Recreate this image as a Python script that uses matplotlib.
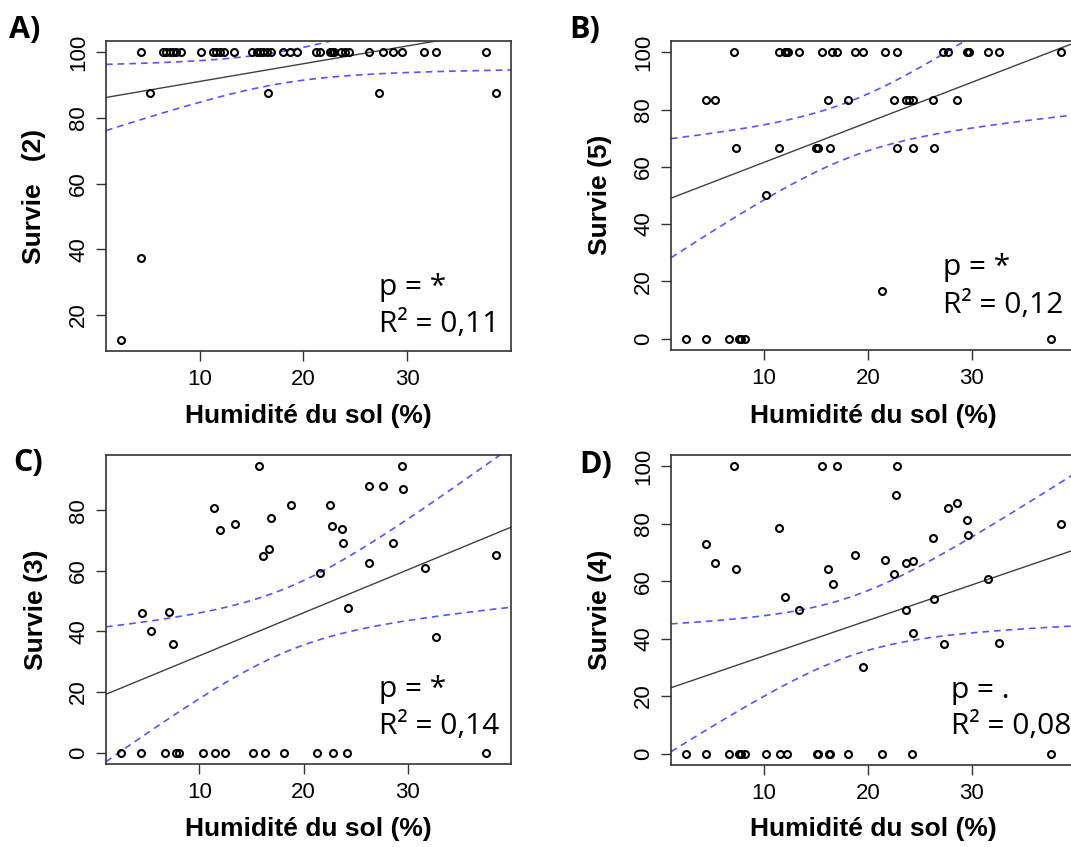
import matplotlib.pyplot as plt
import numpy as np

W, H = 1071, 847

# A) Survie (2) -- soil moisture (%) vs survival
a_x = [4.38, 6.48, 6.8, 7.12, 7.45, 7.77, 8.19, 10.18, 11.31, 11.63, 11.96,
       12.34, 13.34, 15.02, 15.5, 15.82, 16.15, 16.47, 16.89, 18.08, 18.72,
       19.43, 21.24, 21.56, 22.53, 22.75, 22.91, 23.62, 24.04, 24.36, 26.3,
       27.68, 28.62, 29.52, 31.62, 32.74, 37.58,
       5.25, 16.63, 27.26, 38.54,
       4.36, 2.44]
a_y = [100, 100, 100, 100, 100, 100, 100, 100, 100, 100, 100,
       100, 100, 100, 100, 100, 100, 100, 100, 100, 100,
       100, 100, 100, 100, 100, 100, 100, 100, 100, 100,
       100, 100, 100, 100, 100, 100,
       87.5, 87.5, 87.5, 87.5,
       37.5, 12.5]

# B) Survie (5)
b_x = [7.11, 11.44, 11.99, 12.15, 12.31, 13.37, 15.62, 16.52, 17.0, 18.76,
       19.53, 21.65, 22.84, 27.24, 27.75, 29.58, 29.68, 31.51, 32.57, 38.57,
       4.45, 5.28, 16.13, 18.06, 22.52, 23.64, 23.96, 24.35, 26.28, 28.56,
       7.34, 11.44, 15.04, 15.2, 16.36, 22.78, 24.35, 26.37,
       10.22, 21.33,
       2.52, 4.45, 6.69, 7.59, 7.85, 8.17, 37.6]
b_y = [100, 100, 100, 100, 100, 100, 100, 100, 100, 100,
       100, 100, 100, 100, 100, 100, 100, 100, 100, 100,
       83.3, 83.3, 83.3, 83.3, 83.3, 83.3, 83.3, 83.3, 83.3, 83.3,
       66.7, 66.7, 66.7, 66.7, 66.7, 66.7, 66.7, 66.7,
       50, 16.7,
       0, 0, 0, 0, 0, 0, 0]

# C) Survie (3)
c_x = [15.71, 29.45, 26.34, 27.62, 29.55, 11.38, 18.83, 22.58, 16.9, 13.4,
       11.99, 22.71, 23.68, 23.84, 28.62, 16.71, 16.1, 21.62, 26.34, 38.5,
       31.64, 24.29, 4.51, 7.05, 5.35, 32.73, 7.43,
       2.46, 4.38, 6.66, 7.78, 8.07, 10.35, 11.48, 12.41, 15.14, 16.29,
       18.12, 21.27, 22.87, 24.22, 37.54]
c_y = [94.5, 94.5, 87.9, 87.9, 87.0, 80.8, 81.7, 81.7, 77.6, 75.6,
       73.5, 74.7, 73.9, 69.3, 69.3, 67.2, 64.8, 59.4, 62.7, 65.1,
       61.1, 47.9, 46.2, 46.5, 40.3, 38.2, 35.7,
       0, 0, 0, 0, 0, 0, 0, 0, 0, 0,
       0, 0, 0, 0, 0]

# D) Survie (4)
d_x = [7.11, 15.62, 17.0, 22.84, 22.71, 27.69, 28.56, 29.52, 29.65, 11.44,
       4.45, 5.28, 7.34, 16.13, 16.61, 18.76, 21.65, 23.7, 24.35, 22.52,
       26.24, 31.51, 38.57, 12.02, 13.37, 23.7, 26.37, 24.35, 27.34, 32.63,
       19.53,
       2.52, 4.45, 6.69, 7.59, 7.85, 8.17, 10.22, 11.51, 12.25, 15.07,
       15.23, 16.26, 16.36, 18.09, 21.4, 24.22, 37.6]
d_y = [100, 100, 100, 100, 89.9, 85.6, 87.4, 81.2, 76.0, 78.7,
       72.9, 66.5, 64.3, 64.3, 59.0, 69.0, 67.3, 66.4, 66.9, 62.4,
       75.2, 60.8, 79.9, 54.6, 49.9, 49.9, 53.7, 42.1, 38.2, 38.6,
       30.0,
       0, 0, 0, 0, 0, 0, 0, 0, 0, 0,
       0, 0, 0, 0, 0, 0, 0]

panel_tags = ['A)', 'B)', 'C)', 'D)']
y_labels = ['Survie   (2)', 'Survie (5)', 'Survie (3)', 'Survie (4)']
p_texts = ['p = *', 'p = *', 'p = *', 'p = .']
r2_texts = ['R\u00b2 = 0,11', 'R\u00b2 = 0,12', 'R\u00b2 = 0,14', 'R\u00b2 = 0,08']
x_label = 'Humidité du sol (%)'

T975 = 2.02  # t quantile for ~45 df

# layout in pixels: axes box (left, top, width, height)
boxes = [(106, 41, 405, 310), (671, 41, 405, 309),
         (106, 455, 405, 309), (671, 455, 405, 310)]
tag_pos = [(9, 30), (569, 30), (13, 463), (579, 465)]
ylab_pos = [(34, 196), (600, 195), (36, 610), (600, 610)]
xlab_y = [416, 416, 829, 829]
note_pos = [(379, 287, 324), (943, 267, 305), (379, 689, 726), (951, 690, 726)]

SANS = 'Liberation Sans'
NOTE = 'Open Sans'


def fx(px):
    return px / W


def fy(py):
    return 1 - py / H


def fit_band(x, y, grid):
    x = np.asarray(x, float)
    y = np.asarray(y, float)
    n = len(x)
    slope, inter = np.polyfit(x, y, 1)
    resid = y - (inter + slope * x)
    s = np.sqrt(np.sum(resid ** 2) / (n - 2))
    sxx = np.sum((x - x.mean()) ** 2)
    se = s * np.sqrt(1 / n + (grid - x.mean()) ** 2 / sxx)
    fit = inter + slope * grid
    return fit, fit - T975 * se, fit + T975 * se


def padded(v):
    lo, hi = min(v), max(v)
    r = hi - lo
    return lo - 0.04 * r, hi + 0.04 * r


fig = plt.figure(figsize=(W / 100, H / 100), dpi=100)

datasets = [(a_x, a_y), (b_x, b_y), (c_x, c_y), (d_x, d_y)]

for i, (xs, ys) in enumerate(datasets):
    l, t, w, h = boxes[i]
    ax = fig.add_axes([fx(l), fy(t + h), w / W, h / H])
    xlim = padded(xs)
    ylim = padded(ys)

    grid = np.linspace(xlim[0], xlim[1], 200)
    fit, lo, hi = fit_band(xs, ys, grid)
    ax.plot(grid, fit, color='#404040', lw=1.0, zorder=2)
    ax.plot(grid, lo, color='#5555ff', lw=1.2, ls=(0, (4, 3)), zorder=2)
    ax.plot(grid, hi, color='#5555ff', lw=1.2, ls=(0, (4, 3)), zorder=2)
    ax.plot(xs, ys, 'o', mfc='none', mec='black', ms=5, mew=1.5, zorder=3)

    ax.set_xlim(xlim)
    ax.set_ylim(ylim)
    ax.set_xticks([10, 20, 30])
    ax.set_yticks([v for v in range(0, 101, 20) if ylim[0] <= v <= ylim[1]])
    ax.tick_params(length=7, width=1, color='#333333', labelsize=16, pad=6)
    ax.tick_params(axis='y', pad=5)
    for lab in ax.get_xticklabels() + ax.get_yticklabels():
        lab.set_family(SANS)
    for lab in ax.get_yticklabels():
        lab.set_rotation(90)
        lab.set_va('center')
    for sp in ax.spines.values():
        sp.set_color('#333333')
        sp.set_linewidth(1.2)

    fig.text(fx(tag_pos[i][0]), fy(tag_pos[i][1]), panel_tags[i], family=NOTE,
             fontweight='bold', fontsize=22, ha='left', va='center')
    fig.text(fx(ylab_pos[i][0]), fy(ylab_pos[i][1]), y_labels[i], family=SANS,
             fontweight='bold', fontsize=19, rotation=90, ha='center', va='center')
    fig.text(fx(l + w / 2), fy(xlab_y[i]), x_label, family=SANS,
             fontweight='bold', fontsize=19, ha='center', va='center')
    nx, py1, py2 = note_pos[i]
    fig.text(fx(nx), fy(py1), p_texts[i], family=NOTE, fontsize=21.5,
             ha='left', va='center')
    fig.text(fx(nx), fy(py2), r2_texts[i], family=NOTE, fontsize=21.5,
             ha='left', va='center')

fig.savefig('out.png', dpi=100)
